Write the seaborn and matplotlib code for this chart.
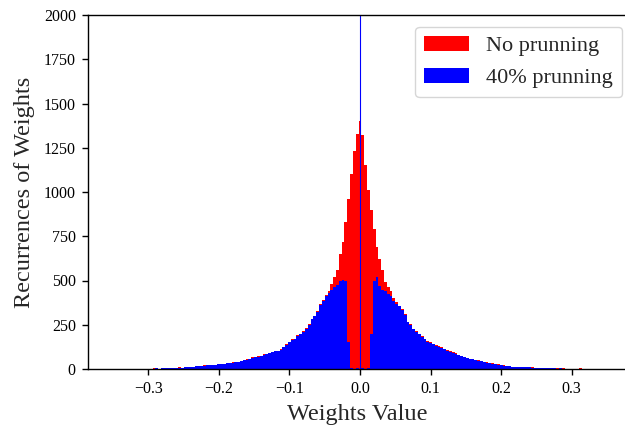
import numpy as np
import pandas as pd
import matplotlib
matplotlib.use("Agg")
import matplotlib.pyplot as plt
import seaborn as sns

# ---- data: histogram counts ----
bin_start = -0.300          # centre of the first bin
bin_width = 0.004

counts_no_pruning = [
    0, 2, 3, 3, 2, 5, 3, 5, 7, 5,                       # -0.300 .. -0.264
    7, 11, 8, 10, 13, 12, 14, 15, 18, 17,               # -0.260 .. -0.224
    20, 24, 22, 25, 25, 29, 28, 31, 35, 33,             # -0.220 .. -0.184
    37, 40, 42, 48, 50, 56, 58, 66, 68, 75,             # -0.180 .. -0.144
    76, 82, 85, 92, 96, 104, 104, 114, 122, 140,        # -0.140 .. -0.104
    152, 170, 172, 190, 198, 214, 232, 255, 285, 302,   # -0.100 .. -0.064
    325, 365, 390, 420, 440, 480, 520, 560, 650, 715,   # -0.060 .. -0.024
    830, 960, 1100, 1230, 1330, 1400, 1320, 1150, 1010, 900,  # -0.020 .. 0.016
    790, 690, 620, 560, 490, 465, 440, 400, 380, 358,   # 0.020 .. 0.056
    340, 310, 268, 255, 228, 212, 198, 186, 172, 160,   # 0.060 .. 0.096
    150, 142, 135, 128, 122, 115, 106, 100, 95, 88,     # 0.100 .. 0.136
    80, 75, 68, 62, 58, 57, 52, 50, 45, 42,             # 0.140 .. 0.176
    38, 34, 32, 28, 26, 23, 20, 19, 16, 14,             # 0.180 .. 0.216
    14, 12, 12, 11, 10, 9, 9, 8, 6, 6,                  # 0.220 .. 0.256
    5, 5, 4, 4, 3, 3, 3, 3, 2, 2,                       # 0.260 .. 0.296
    0, 0, 0, 4, 0,                                      # 0.300 .. 0.316
]

counts_pruned_40 = [
    0, 2, 0, 3, 2, 4, 3, 5, 6, 5,                       # -0.300 .. -0.264
    7, 8, 8, 10, 11, 12, 13, 15, 16, 17,                # -0.260 .. -0.224
    19, 20, 22, 23, 25, 27, 28, 30, 32, 33,             # -0.220 .. -0.184
    36, 38, 42, 44, 50, 53, 58, 63, 68, 70,             # -0.180 .. -0.144
    74, 78, 85, 88, 94, 100, 104, 110, 122, 135,        # -0.140 .. -0.104
    150, 165, 172, 185, 195, 210, 228, 250, 280, 300,   # -0.100 .. -0.064
    320, 360, 385, 410, 430, 445, 465, 475, 495, 505,   # -0.060 .. -0.024
    495, 150, 5, 2, 3, 0, 3, 2, 8, 200,                 # -0.020 .. 0.016
    500, 520, 470, 445, 440, 425, 410, 385, 370, 355,   # 0.020 .. 0.056
    333, 305, 265, 250, 225, 208, 195, 183, 168, 155,   # 0.060 .. 0.096
    148, 140, 132, 126, 120, 112, 104, 98, 92, 86,      # 0.100 .. 0.136
    78, 72, 66, 60, 57, 55, 51, 47, 43, 40,             # 0.140 .. 0.176
    36, 33, 30, 27, 24, 22, 19, 17, 15, 13,             # 0.180 .. 0.216
    13, 12, 11, 10, 9, 9, 8, 7, 6, 5,                   # 0.220 .. 0.256
    5, 4, 4, 3, 3, 2, 3, 2, 0, 2,                       # 0.260 .. 0.296
    0, 0, 0, 0, 0,                                      # 0.300 .. 0.316
]

# pruned weights set exactly to zero (spike far above the axis limit)
pruned_zero_value = [0.0]
pruned_zero_count = [120000]
spike_width = 0.0012

series_labels = ["No prunning", "40% prunning"]
series_colors = ["#ff0000", "#0000ff"]

x_ticks = [-0.3, -0.2, -0.1, 0.0, 0.1, 0.2, 0.3]
y_ticks = [0, 250, 500, 750, 1000, 1250, 1500, 1750, 2000]

# ---- build tables ----
n_bins = len(counts_no_pruning)
centers = bin_start + bin_width * np.arange(n_bins)
edges = [float(c - bin_width / 2) for c in centers] + [float(centers[-1] + bin_width / 2)]

df_red = pd.DataFrame({"w": centers, "n": counts_no_pruning})
df_blue = pd.DataFrame({"w": centers, "n": counts_pruned_40})
df_spike = pd.DataFrame({"w": pruned_zero_value, "n": pruned_zero_count})

# ---- style ----
sns.set_style("ticks")
plt.rcParams["font.family"] = ["Liberation Serif", "DejaVu Serif"]
plt.rcParams["axes.edgecolor"] = "black"
plt.rcParams["xtick.color"] = "black"
plt.rcParams["ytick.color"] = "black"
plt.rcParams["axes.unicode_minus"] = True

W, H = 625, 426
ax_left, ax_right, ax_top, ax_bottom = 88, 626, 15, 369
fig = plt.figure(figsize=(W / 100, H / 100), dpi=100)
ax = fig.add_axes([ax_left / W, 1 - ax_bottom / H, (ax_right - ax_left) / W, (ax_bottom - ax_top) / H])

sns.histplot(data=df_red, x="w", weights="n", bins=edges, color=series_colors[0],
             alpha=1, linewidth=0, label=series_labels[0], ax=ax)
sns.histplot(data=df_blue, x="w", weights="n", bins=edges, color=series_colors[1],
             alpha=1, linewidth=0, label=series_labels[1], ax=ax)
sns.histplot(data=df_spike, x="w", weights="n",
             bins=[-spike_width / 2, spike_width / 2], color=series_colors[1],
             edgecolor=series_colors[1], alpha=1, linewidth=0.8, ax=ax)

ax.set_xlim(-0.3854, 0.3769)
ax.set_ylim(0, 2000)
ax.set_xticks(x_ticks)
ax.set_yticks(y_ticks)
ax.set_xticklabels([f"{t:.1f}".replace("-", "\u2212") for t in x_ticks])
ax.tick_params(axis="both", labelsize=11.5, length=4.3, width=1, direction="out", pad=4.5)

for s in ["left", "bottom", "top"]:
    ax.spines[s].set_visible(True)
    ax.spines[s].set_linewidth(1)
ax.spines["right"].set_visible(False)

ax.set_xlabel("Weights Value", fontsize=17.5, labelpad=5)
ax.set_ylabel("Recurrences of Weights", fontsize=17.5, labelpad=6)

ax.legend(loc="upper right", fontsize=16, frameon=True, fancybox=True,
          edgecolor="#cccccc", handlelength=2.0, borderaxespad=0,
          bbox_to_anchor=((622 - ax_left) / (ax_right - ax_left), 1 - 12 / (ax_bottom - ax_top)))

fig.savefig("out.png", dpi=100)
